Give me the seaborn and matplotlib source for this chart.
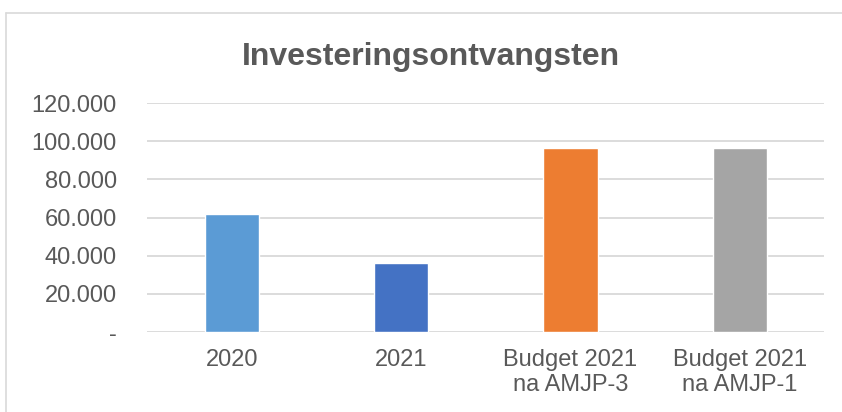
import matplotlib
matplotlib.use("Agg")
import matplotlib.pyplot as plt
from matplotlib.ticker import FuncFormatter
from matplotlib.lines import Line2D
import pandas as pd
import seaborn as sns

# gegevens
categorieen = ["2020", "2021", "Budget 2021\nna AMJP-3", "Budget 2021\nna AMJP-1"]
waarden = [62000, 36300, 96500, 96500]
kleuren = ["#5B9BD5", "#4472C4", "#ED7D31", "#A5A5A5"]
titel = "Investeringsontvangsten"

df = pd.DataFrame({"categorie": categorieen, "waarde": waarden})

sns.set_style("white")
plt.rcParams["font.family"] = ["Liberation Sans", "DejaVu Sans"]

tekst = "#595959"
fig = plt.figure(figsize=(8.42, 4.12), dpi=100)
ax = fig.add_axes([0.175, 0.194, 0.804, 0.556])

sns.barplot(data=df, x="categorie", y="waarde", hue="categorie",
            palette=kleuren, width=0.32, saturation=1, legend=False, ax=ax)

ax.set_ylim(0, 120000)
ax.set_yticks(range(0, 120001, 20000))
ax.yaxis.set_major_formatter(FuncFormatter(
    lambda v, p: "-" if v == 0 else f"{int(v):,}".replace(",", ".")))
ax.grid(axis="y", color="#d9d9d9", linewidth=1.3)
ax.set_axisbelow(True)
for s in ax.spines.values():
  s.set_visible(False)
ax.tick_params(axis="both", length=0, labelsize=17, labelcolor=tekst)
ax.tick_params(axis="y", pad=22)
ax.tick_params(axis="x", pad=12)
for lbl in ax.get_xticklabels():
  lbl.set_linespacing(1.2)
ax.set_xlabel("")
ax.set_ylabel("")

fig.text(0.512, 0.862, titel, ha="center", va="center", fontsize=23,
         fontweight="bold", color=tekst)

# kader rond de grafiek
fig.add_artist(Line2D([6/842, 6/842], [0, 1 - 13/412], color="#d9d9d9",
                      linewidth=1.2, transform=fig.transFigure))
fig.add_artist(Line2D([6/842, 1], [1 - 13/412, 1 - 13/412], color="#d9d9d9",
                      linewidth=1.2, transform=fig.transFigure))

fig.savefig("out.png", dpi=100)
